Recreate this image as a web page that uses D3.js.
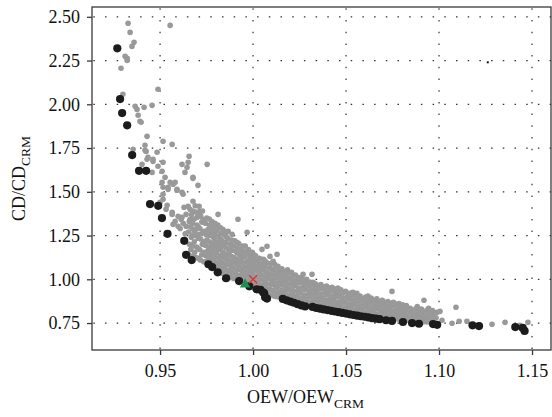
<!DOCTYPE html>
<html>
<head>
<meta charset="utf-8">
<script src="https://cdn.jsdelivr.net/npm/d3@7"></script>
<style>
body { margin: 0; background: #fff; }
text { font-family: "Liberation Serif", "Times New Roman", serif; fill: #111; }
</style>
</head>
<body>
<script>
// ticks
var xTicks = [0.95, 1.00, 1.05, 1.10, 1.15];
var yTicks = [0.75, 1.00, 1.25, 1.50, 1.75, 2.00, 2.25, 2.50];

// all designs (grey)
var designs = [
    // sparse upper left
    [0.9328,2.463],[0.9339,2.411],[0.936,2.354],[0.9349,2.331],[0.9312,2.274],[0.9323,2.263],[0.9323,2.251],
    [0.929,2.206],[0.9554,2.451],[0.930,2.057],[0.9489,2.086],[0.9366,1.989],[0.9376,1.971],[0.9414,1.983],
    [0.9457,1.994],[0.9382,1.937],[0.9392,1.903],[0.9398,1.897],[0.943,1.817],[0.9516,1.789],[0.9565,1.771],
    [0.9419,1.766],[0.9419,1.737],[0.9355,1.743],[0.9425,1.731],[0.9484,1.726],[0.9435,1.697],[0.9462,1.686],
    [0.943,1.686],[0.9403,1.657],[0.9462,1.674],[0.9516,1.669],[0.9489,1.646],[0.9457,1.611],[0.9511,1.617],
    [0.9527,1.583],[0.9618,1.657],[0.9656,1.703],[0.9651,1.669],[0.9645,1.64],[0.9634,1.611],[0.9753,1.657],
    [0.9677,1.577],[0.9511,1.554],[0.9554,1.554],[0.9581,1.554],[0.9543,1.526],[0.9516,1.526],[0.9591,1.509],
    [0.9624,1.486],[0.9704,1.537],[0.9516,1.486],[0.9516,1.457],[0.9538,1.423],[0.9629,1.411],[0.9651,1.417],
    [0.9677,1.446],[0.9715,1.389],[0.971,1.417],[0.964,1.371],[0.9618,1.354],[0.9581,1.331],[0.9565,1.383],
    [0.9661,1.343],[0.9699,1.354],[0.9726,1.326],[0.9812,1.371],[0.9785,1.303],[0.9919,1.343],[0.9597,1.303],
    [0.964,1.303],[0.9677,1.286],[0.9699,1.257],[0.9753,1.274],[0.9866,1.274],[0.9887,1.257],[0.950,1.44],
    [0.9532,1.40],[0.9565,1.371],[0.957,1.314],[0.9613,1.343],[0.9608,1.29],[0.9635,1.26],[0.9624,1.32],
    [0.9597,1.36],[0.957,1.543],[0.9591,1.514],[0.9618,1.497],[0.9677,1.583],[0.9543,1.514],
    // dense band
    [0.9655,1.14],[0.9665,1.17],[0.9658,1.20],[0.9668,1.24],[0.9652,1.27],[0.9664,1.30],[0.9657,1.33],[0.9669,1.37],[0.9661,1.40],
    [0.9693,1.125],[0.9686,1.155],[0.9697,1.185],[0.9684,1.215],[0.9692,1.25],[0.9688,1.28],[0.9698,1.31],[0.9683,1.345],[0.9694,1.385],[0.9689,1.42],
    [0.9716,1.11],[0.9724,1.14],[0.9713,1.17],[0.9727,1.20],[0.9718,1.23],[0.9722,1.26],[0.9714,1.29],[0.9726,1.33],[0.9719,1.36],[0.9728,1.39],
    [0.9754,1.105],[0.9746,1.135],[0.9757,1.165],[0.9743,1.195],[0.9752,1.225],[0.9748,1.255],[0.9758,1.285],[0.9744,1.32],[0.9751,1.35],
    [0.9776,1.085],[0.9785,1.115],[0.9773,1.145],[0.9784,1.175],[0.9778,1.205],[0.9787,1.24],[0.9774,1.27],[0.9782,1.30],[0.9779,1.33],
    [0.9813,1.06],[0.9806,1.09],[0.9817,1.12],[0.9804,1.15],[0.9812,1.18],[0.9808,1.21],[0.9816,1.245],[0.9803,1.28],[0.9811,1.31],
    [0.9836,1.035],[0.9844,1.065],[0.9833,1.095],[0.9847,1.125],[0.9838,1.155],[0.9842,1.19],[0.9834,1.22],[0.9846,1.255],[0.9839,1.285],
    [0.9874,1.02],[0.9866,1.05],[0.9877,1.08],[0.9863,1.11],[0.9872,1.14],[0.9868,1.17],[0.9878,1.20],[0.9864,1.235],
    [0.9896,1.005],[0.9905,1.035],[0.9893,1.065],[0.9904,1.095],[0.9898,1.125],[0.9907,1.16],[0.9894,1.19],[0.9902,1.22],
    [0.9933,0.995],[0.9926,1.02],[0.9937,1.05],[0.9924,1.08],[0.9932,1.11],[0.9928,1.14],[0.9936,1.17],[0.9923,1.205],
    [0.9966,0.99],[0.9954,1.01],[0.9963,1.04],[0.9957,1.07],[0.9967,1.10],[0.9953,1.13],[0.9962,1.16],[0.9958,1.19],
    [0.9993,0.975],[0.9986,1.005],[0.9997,1.035],[0.9984,1.065],[0.9992,1.095],[0.9988,1.125],[0.9996,1.155],
    [1.0016,0.955],[1.0024,0.985],[1.0013,1.015],[1.0027,1.045],[1.0018,1.075],[1.0022,1.105],[1.0014,1.135],
    [1.0053,0.935],[1.0046,0.965],[1.0057,0.995],[1.0043,1.025],[1.0052,1.055],[1.0048,1.085],[1.0056,1.115],
    [1.0076,0.915],[1.0085,0.945],[1.0073,0.975],[1.0084,1.005],[1.0078,1.035],[1.0087,1.065],[1.0074,1.095],
    [1.0113,0.905],[1.0106,0.935],[1.0117,0.965],[1.0104,0.995],[1.0112,1.025],[1.0108,1.055],[1.0116,1.085],
    [1.0136,0.90],[1.0144,0.93],[1.0133,0.96],[1.0147,0.99],[1.0138,1.02],[1.0142,1.05],[1.0134,1.075],
    [1.0174,0.895],[1.0166,0.925],[1.0177,0.955],[1.0163,0.985],[1.0172,1.015],[1.0168,1.045],
    [1.0196,0.885],[1.0205,0.915],[1.0193,0.945],[1.0204,0.975],[1.0198,1.005],[1.0207,1.04],
    [1.0233,0.875],[1.0226,0.905],[1.0237,0.935],[1.0224,0.965],[1.0232,0.995],[1.0228,1.025],
    [1.0256,0.865],[1.0264,0.895],[1.0253,0.925],[1.0267,0.955],[1.0258,0.985],[1.0262,1.01],
    [1.0294,0.855],[1.0286,0.885],[1.0297,0.915],[1.0283,0.945],[1.0292,0.975],[1.0288,1.0],
    [1.0316,0.85],[1.0325,0.88],[1.0313,0.91],[1.0324,0.94],[1.0318,0.97],
    [1.0353,0.845],[1.0346,0.875],[1.0357,0.905],[1.0344,0.935],[1.0352,0.965],
    [1.0376,0.835],[1.0384,0.865],[1.0373,0.895],[1.0387,0.925],[1.0378,0.955],
    [1.0414,0.83],[1.0406,0.86],[1.0417,0.89],[1.0403,0.92],[1.0412,0.95],
    [1.0436,0.825],[1.0445,0.855],[1.0433,0.885],[1.0444,0.915],[1.0438,0.945],
    [1.0473,0.82],[1.0466,0.85],[1.0477,0.88],[1.0464,0.91],[1.0472,0.94],
    [1.0496,0.812],[1.0504,0.842],[1.0493,0.872],[1.0507,0.902],[1.0498,0.932],
    [1.0534,0.808],[1.0526,0.838],[1.0537,0.868],[1.0523,0.898],[1.0532,0.925],
    [1.0556,0.805],[1.0565,0.835],[1.0553,0.865],[1.0564,0.895],[1.0558,0.92],
    [1.0593,0.80],[1.0586,0.83],[1.0597,0.86],[1.0584,0.89],
    [1.0616,0.795],[1.0624,0.825],[1.0613,0.855],[1.0627,0.885],[1.0618,0.905],
    [1.0654,0.79],[1.0646,0.82],[1.0657,0.85],[1.0643,0.88],
    [1.0676,0.785],[1.0685,0.815],[1.0673,0.845],[1.0684,0.875],
    [1.0713,0.78],[1.0706,0.81],[1.0717,0.84],[1.0704,0.87],
    [1.0736,0.778],[1.0744,0.805],[1.0733,0.835],[1.0747,0.865],
    [1.0774,0.775],[1.0766,0.80],[1.0777,0.83],[1.0763,0.86],
    [1.0796,0.77],[1.0805,0.80],[1.0793,0.83],[1.0804,0.855],
    [1.0833,0.767],[1.0826,0.795],[1.0837,0.825],[1.0824,0.85],
    [1.0856,0.765],[1.0864,0.79],[1.0853,0.82],
    [1.0894,0.76],[1.0886,0.79],[1.0897,0.82],[1.0883,0.845],
    [1.0916,0.757],[1.0925,0.785],[1.0913,0.815],
    [1.0953,0.755],[1.0946,0.78],[1.0957,0.81],[1.0944,0.835],
    [1.0976,0.752],[1.0984,0.78],[1.0973,0.81],
    // in-between designs filling the band
    [0.9675,1.13],[0.9675,1.19],[0.9675,1.255],[0.9675,1.32],[0.9675,1.39],
    [0.9705,1.12],[0.9705,1.175],[0.9705,1.235],[0.9705,1.30],[0.9705,1.37],
    [0.9735,1.10],[0.9735,1.155],[0.9735,1.215],[0.9735,1.275],[0.9735,1.34],
    [0.9765,1.095],[0.9765,1.125],[0.9765,1.155],[0.9765,1.185],[0.9765,1.215],[0.9765,1.25],[0.9765,1.28],[0.9765,1.31],[0.9765,1.345],
    [0.9795,1.07],[0.9795,1.10],[0.9795,1.13],[0.9795,1.16],[0.9795,1.195],[0.9795,1.225],[0.9795,1.26],[0.9795,1.29],[0.9795,1.32],
    [0.9825,1.045],[0.9825,1.075],[0.9825,1.105],[0.9825,1.135],[0.9825,1.17],[0.9825,1.20],[0.9825,1.23],[0.9825,1.265],[0.9825,1.295],
    [0.9855,1.025],[0.9855,1.055],[0.9855,1.085],[0.9855,1.115],[0.9855,1.145],[0.9855,1.18],[0.9855,1.21],[0.9855,1.245],[0.9855,1.27],
    [0.9885,1.01],[0.9885,1.04],[0.9885,1.07],[0.9885,1.10],[0.9885,1.13],[0.9885,1.165],[0.9885,1.195],[0.9885,1.225],
    [0.9915,1.0],[0.9915,1.025],[0.9915,1.055],[0.9915,1.085],[0.9915,1.115],[0.9915,1.15],[0.9915,1.18],[0.9915,1.21],
    [0.9945,0.99],[0.9945,1.005],[0.9945,1.035],[0.9945,1.065],[0.9945,1.095],[0.9945,1.125],[0.9945,1.155],[0.9945,1.19],
    [0.9975,0.98],[0.9975,1.02],[0.9975,1.05],[0.9975,1.08],[0.9975,1.11],[0.9975,1.14],[0.9975,1.17],
    [1.0005,0.965],[1.0005,0.99],[1.0005,1.02],[1.0005,1.05],[1.0005,1.08],[1.0005,1.11],[1.0005,1.14],
    [1.0035,0.945],[1.0035,0.97],[1.0035,1.0],[1.0035,1.03],[1.0035,1.06],[1.0035,1.09],[1.0035,1.12],
    [1.0065,0.925],[1.0065,0.955],[1.0065,0.985],[1.0065,1.015],[1.0065,1.045],[1.0065,1.075],[1.0065,1.105],
    [1.0095,0.91],[1.0095,0.94],[1.0095,0.97],[1.0095,1.0],[1.0095,1.03],[1.0095,1.06],[1.0095,1.09],
    [1.0125,0.902],[1.0125,0.92],[1.0125,0.95],[1.0125,0.98],[1.0125,1.01],[1.0125,1.04],[1.0125,1.07],
    [1.0155,0.897],[1.0155,0.912],[1.0155,0.94],[1.0155,0.97],[1.0155,1.0],[1.0155,1.03],[1.0155,1.06],
    [1.0185,0.89],[1.0185,0.91],[1.0185,0.94],[1.0185,0.97],[1.0185,1.0],[1.0185,1.03],[1.0185,1.055],
    [1.0215,0.88],[1.0215,0.90],[1.0215,0.93],[1.0215,0.96],[1.0215,0.99],[1.0215,1.02],
    [1.0245,0.87],[1.0245,0.89],[1.0245,0.92],[1.0245,0.95],[1.0245,0.98],[1.0245,1.01],
    [1.0275,0.86],[1.0275,0.88],[1.0275,0.91],[1.0275,0.94],[1.0275,0.97],[1.0275,0.995],
    [1.0305,0.852],[1.0305,0.87],[1.0305,0.90],[1.0305,0.93],[1.0305,0.96],[1.0305,0.985],
    [1.0335,0.847],[1.0335,0.86],[1.0335,0.89],[1.0335,0.92],[1.0335,0.95],[1.0335,0.975],
    [1.0365,0.84],[1.0365,0.855],[1.0365,0.885],[1.0365,0.915],[1.0365,0.945],[1.0365,0.97],
    [1.0395,0.832],[1.0395,0.85],[1.0395,0.88],[1.0395,0.91],[1.0395,0.94],[1.0395,0.962],
    [1.0425,0.827],[1.0425,0.845],[1.0425,0.875],[1.0425,0.905],[1.0425,0.935],[1.0425,0.955],
    [1.0455,0.822],[1.0455,0.84],[1.0455,0.87],[1.0455,0.90],[1.0455,0.93],[1.0455,0.948],
    [1.0485,0.816],[1.0485,0.835],[1.0485,0.865],[1.0485,0.895],[1.0485,0.925],
    [1.0515,0.81],[1.0515,0.828],[1.0515,0.858],[1.0515,0.888],[1.0515,0.918],
    [1.0545,0.806],[1.0545,0.823],[1.0545,0.853],[1.0545,0.883],[1.0545,0.912],
    [1.0575,0.802],[1.0575,0.818],[1.0575,0.848],[1.0575,0.878],[1.0575,0.905],
    [1.0605,0.797],[1.0605,0.812],[1.0605,0.842],[1.0605,0.872],[1.0605,0.898],
    [1.0635,0.792],[1.0635,0.807],[1.0635,0.837],[1.0635,0.867],[1.0635,0.893],
    [1.0665,0.787],[1.0665,0.802],[1.0665,0.832],[1.0665,0.862],[1.0665,0.888],
    [1.0695,0.782],[1.0695,0.797],[1.0695,0.827],[1.0695,0.857],[1.0695,0.88],
    [1.0725,0.779],[1.0725,0.792],[1.0725,0.822],[1.0725,0.852],[1.0725,0.873],
    [1.0755,0.776],[1.0755,0.79],[1.0755,0.817],[1.0755,0.847],[1.0755,0.868],
    [1.0785,0.772],[1.0785,0.787],[1.0785,0.815],[1.0785,0.843],[1.0785,0.862],
    [1.0815,0.768],[1.0815,0.782],[1.0815,0.812],[1.0815,0.838],
    [1.0845,0.766],[1.0845,0.778],[1.0845,0.806],[1.0845,0.835],
    [1.0875,0.762],[1.0875,0.776],[1.0875,0.805],[1.0875,0.832],
    [1.0905,0.758],[1.0905,0.772],[1.0905,0.80],[1.0905,0.83],
    [1.0935,0.756],[1.0935,0.77],[1.0935,0.797],[1.0935,0.825],
    [1.0965,0.754],[1.0965,0.767],[1.0965,0.795],[1.0965,0.822],
    // stragglers above the band and to the right
    [0.9968,1.269],[1.0075,1.189],[1.0129,1.143],[1.0048,1.171],[1.0091,1.131],[1.0108,1.103],[1.0188,1.04],
    [1.0269,1.029],[1.0317,1.029],[1.0323,0.983],[1.0457,0.949],[1.0538,0.926],[1.0747,0.931],[1.0919,0.88],
    [1.1091,0.84],[1.1016,0.766],[1.107,0.749],[1.1108,0.76],[1.115,0.76],[1.1285,0.743],[1.1435,0.737],
    [1.0989,0.811],[1.1005,0.817],[1.1355,0.754],[1.1478,0.754]
];

// non-dominated designs (black)
var front = [
    [0.927,2.32],[0.9285,2.03],[0.9296,1.95],[0.9323,1.88],[0.935,1.71],[0.9387,1.62],[0.9425,1.62],
    [0.9446,1.43],[0.949,1.42],[0.951,1.35],[0.954,1.26],[0.963,1.22],[0.964,1.14],[0.967,1.11],
    [0.976,1.086],[0.978,1.07],[0.981,1.04],[0.9855,1.006],[0.9925,0.99],[0.998,0.96],[1.002,0.943],
    [1.004,0.94],[1.0054,0.926],[1.006,0.92],[1.0065,0.897],[1.0075,0.89],
    [1.016,0.888],[1.018,0.88],[1.020,0.873],[1.022,0.866],[1.024,0.858],[1.026,0.851],[1.028,0.845],
    [1.032,0.842],[1.034,0.836],[1.036,0.832],[1.038,0.828],[1.040,0.824],[1.042,0.82],[1.044,0.816],
    [1.046,0.812],[1.048,0.808],[1.050,0.804],[1.052,0.80],[1.054,0.796],[1.056,0.792],[1.058,0.789],
    [1.060,0.786],[1.062,0.782],[1.064,0.778],[1.066,0.775],[1.068,0.772],
    [1.0715,0.766],[1.0747,0.762],[1.0806,0.756],[1.0855,0.75],[1.0892,0.746],[1.0968,0.744],[1.099,0.74],
    [1.118,0.737],[1.1215,0.733],[1.141,0.727],[1.145,0.722],[1.146,0.705]
];

var oddPoint = [1.1262, 2.24];   // tiny black mark upper right
var optimum = [0.9957, 0.97];    // green triangle
var reference = [1.0, 1.0];      // red cross (CRM)

var margin = {top: 7, right: 1, bottom: 67, left: 92},
    width = 552 - margin.left - margin.right,
    height = 417 - margin.top - margin.bottom;

var svg = d3.select("body").append("svg")
    .attr("width", 552)
    .attr("height", 417)
    .append("g")
    .attr("transform", "translate(" + margin.left + "," + margin.top + ")");

var x = d3.scaleLinear().domain([0.9134, 1.1602]).range([0, width]);
var y = d3.scaleLinear().domain([0.596, 2.556]).range([height, 0]);

// dotted grid
svg.selectAll(".vgrid")
    .data(xTicks)
    .enter()
    .append("line")
    .attr("x1", d => x(d)).attr("x2", d => x(d))
    .attr("y1", 0).attr("y2", height)
    .attr("stroke", "#333")
    .attr("stroke-width", 1.2)
    .attr("stroke-dasharray", "1.5,10.2")
    .attr("stroke-dashoffset", -1.3);

svg.selectAll(".hgrid")
    .data(yTicks)
    .enter()
    .append("line")
    .attr("x1", 0).attr("x2", width)
    .attr("y1", d => y(d)).attr("y2", d => y(d))
    .attr("stroke", "#333")
    .attr("stroke-width", 1.2)
    .attr("stroke-dasharray", "1.5,10.2")
    .attr("stroke-dashoffset", -1.3);

svg.selectAll(".design")
    .data(designs)
    .enter()
    .append("circle")
    .attr("cx", d => x(d[0]))
    .attr("cy", d => y(d[1]))
    .attr("r", 2.8)
    .attr("fill", "#999");

svg.selectAll(".front")
    .data(front)
    .enter()
    .append("circle")
    .attr("cx", d => x(d[0]))
    .attr("cy", d => y(d[1]))
    .attr("r", 4.1)
    .attr("fill", "#1c1c1c");

svg.append("rect")
    .attr("x", x(oddPoint[0]) - 1)
    .attr("y", y(oddPoint[1]) - 1)
    .attr("width", 2)
    .attr("height", 2)
    .attr("fill", "#111");

svg.append("path")
    .attr("d", d3.symbol().type(d3.symbolTriangle).size(48)())
    .attr("transform", "translate(" + x(optimum[0]) + "," + y(optimum[1]) + ")")
    .attr("fill", "#1b8f50");

var cx = x(reference[0]), cy = y(reference[1]), s = 4;
svg.append("path")
    .attr("d", "M" + (cx - s) + "," + (cy - s) + "L" + (cx + s) + "," + (cy + s) +
               "M" + (cx - s) + "," + (cy + s) + "L" + (cx + s) + "," + (cy - s))
    .attr("stroke", "#e2342f")
    .attr("stroke-width", 1.3)
    .attr("fill", "none");

// frame
svg.append("rect")
    .attr("width", width)
    .attr("height", height)
    .attr("fill", "none")
    .attr("stroke", "#3a3a3a")
    .attr("stroke-width", 1.3);

var xAxis = svg.append("g")
    .attr("transform", "translate(0," + height + ")")
    .call(d3.axisBottom(x).tickValues(xTicks).tickFormat(d3.format(".2f")).tickSize(5).tickPadding(9).tickSizeOuter(0));

var yAxis = svg.append("g")
    .call(d3.axisLeft(y).tickValues(yTicks).tickFormat(d3.format(".2f")).tickSize(5).tickPadding(7).tickSizeOuter(0));

[xAxis, yAxis].forEach(function(a) {
    a.select(".domain").remove();
    a.selectAll(".tick line").attr("stroke", "#3a3a3a").attr("stroke-width", 1.3);
    a.selectAll(".tick text")
        .style("font-family", "'Liberation Serif', 'Times New Roman', serif")
        .style("font-size", "18px")
        .attr("fill", "#111");
});

var xl = svg.append("text")
    .attr("x", width / 2 - 16)
    .attr("y", height + 53)
    .attr("text-anchor", "middle")
    .style("font-size", "18px");
xl.append("tspan").text("OEW/OEW");
xl.append("tspan").attr("dy", 5).style("font-size", "13.5px").text("CRM");

var yl = svg.append("text")
    .attr("transform", "translate(" + (-67) + "," + (height / 2) + ") rotate(-90)")
    .attr("text-anchor", "middle")
    .style("font-size", "18px");
yl.append("tspan").text("CD/CD");
yl.append("tspan").attr("dy", 5).style("font-size", "13.5px").text("CRM");
</script>
</body>
</html>
